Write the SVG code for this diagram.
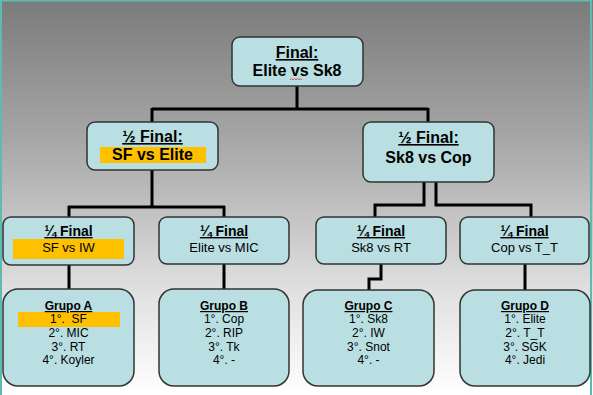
<svg xmlns="http://www.w3.org/2000/svg" width="593" height="395" viewBox="0 0 593 395">
<defs>
<linearGradient id="bg" x1="0" y1="0" x2="0" y2="1">
<stop offset="0" stop-color="#7b7b7b"/>
<stop offset="0.35" stop-color="#a6a6a6"/>
<stop offset="0.75" stop-color="#e2e2e2"/>
<stop offset="1" stop-color="#ffffff"/>
</linearGradient>
<style>
.box{fill:#b9dfe2;stroke:#333;stroke-width:1.5}
.hl{fill:#ffc000}
.con{fill:none;stroke:#000;stroke-width:3}
text{font-family:"Liberation Sans",Arial,sans-serif;fill:#000;text-anchor:middle}
.h1{font-size:16px;font-weight:bold}
.h2{font-size:14px;font-weight:bold}
.t2{font-size:13px}
.h3{font-size:12px;font-weight:bold}
.t3{font-size:12px}
.u{text-decoration:underline}
.sp{fill:none;stroke:#e03030;stroke-width:0.8}
</style>
</defs>
<rect x="0" y="0" width="593" height="395" fill="url(#bg)"/>
<rect x="1" y="0.5" width="590" height="400" fill="none" stroke="#5cbcb0" stroke-width="2"/>

<g id="connectors">
<path class="con" d="M297,86 V109 M152,109 H428 M152,108 V122 M428,108 V122"/>
<path class="con" d="M152,170 V207 M68,207 H225 M69,206 V217 M224,206 V217"/>
<path class="con" d="M424,182 V205 H375 V217 M436,182 V205 H531 V217"/>
<path class="con" d="M69,265 V289 M224,264 V289 M381,264 V279 H369 V290 M525,264 V290"/>
</g>

<g id="final">
<rect class="box" x="232" y="37" width="131" height="49" rx="8"/>
<text class="h1 u" x="297" y="58">Final:</text>
<text class="h1" x="297" y="76">Elite vs Sk8</text>
<path class="sp" d="M290,80 l1.5,-1.5 1.5,1.5 1.5,-1.5 1.5,1.5 1.5,-1.5 1.5,1.5 1.5,-1.5 1.5,1.5"/>
</g>

<g id="semi-left">
<rect class="box" x="87" y="122" width="131" height="48" rx="8"/>
<rect class="hl" x="100" y="147" width="106" height="16"/>
<text class="h1 u" x="152.5" y="142">½ Final:</text>
<text class="h1" x="152.5" y="160">SF vs Elite</text>
</g>

<g id="semi-right">
<rect class="box" x="363" y="122" width="131" height="60" rx="8"/>
<text class="h1 u" x="428.5" y="143">½ Final:</text>
<text class="h1" x="428.5" y="163">Sk8 vs Cop</text>
</g>

<g id="quarter-1">
<rect class="box" x="3" y="217" width="131" height="48" rx="8"/>
<rect class="hl" x="13" y="239" width="111" height="20"/>
<text class="h2 u" x="68.5" y="236">¼ Final</text>
<text class="t2" x="68.5" y="252">SF vs IW</text>
</g>

<g id="quarter-2">
<rect class="box" x="159" y="217" width="130" height="47" rx="8"/>
<text class="h2 u" x="224" y="236">¼ Final</text>
<text class="t2" x="224" y="252">Elite vs MIC</text>
</g>

<g id="quarter-3">
<rect class="box" x="316" y="217" width="130" height="47" rx="8"/>
<text class="h2 u" x="381" y="236">¼ Final</text>
<text class="t2" x="381" y="252">Sk8 vs RT</text>
</g>

<g id="quarter-4">
<rect class="box" x="460" y="217" width="129" height="47" rx="8"/>
<text class="h2 u" x="524.5" y="236">¼ Final</text>
<text class="t2" x="524.5" y="252">Cop vs T_T</text>
</g>

<g id="grupo-a">
<rect class="box" x="3" y="289" width="131" height="97" rx="15"/>
<rect class="hl" x="18" y="312" width="102" height="15"/>
<text class="h3 u" x="68.5" y="310">Grupo A</text>
<text class="t3" x="68.5" y="323">1°.&#160; SF</text>
<text class="t3" x="68.5" y="337">2°. MIC</text>
<text class="t3" x="68.5" y="351">3°. RT</text>
<text class="t3" x="68.5" y="364">4°. Koyler</text>
</g>

<g id="grupo-b">
<rect class="box" x="159" y="289" width="130" height="97" rx="15"/>
<text class="h3 u" x="224" y="310">Grupo B</text>
<text class="t3" x="224" y="323">1°. Cop</text>
<text class="t3" x="224" y="337">2°. RIP</text>
<text class="t3" x="224" y="351">3°. Tk</text>
<text class="t3" x="224" y="364">4°. -</text>
</g>

<g id="grupo-c">
<rect class="box" x="303" y="290" width="131" height="96" rx="15"/>
<text class="h3 u" x="368.5" y="310">Grupo C</text>
<text class="t3" x="368.5" y="323">1°. Sk8</text>
<text class="t3" x="368.5" y="337">2°. IW</text>
<text class="t3" x="368.5" y="351">3°. Snot</text>
<text class="t3" x="368.5" y="364">4°. -</text>
</g>

<g id="grupo-d">
<rect class="box" x="460" y="290" width="130" height="96" rx="15"/>
<text class="h3 u" x="525" y="310">Grupo D</text>
<text class="t3" x="525" y="323">1°. Elite</text>
<text class="t3" x="525" y="337">2°. T_T</text>
<text class="t3" x="525" y="351">3°. SGK</text>
<text class="t3" x="525" y="364">4°. Jedi</text>
</g>
</svg>
